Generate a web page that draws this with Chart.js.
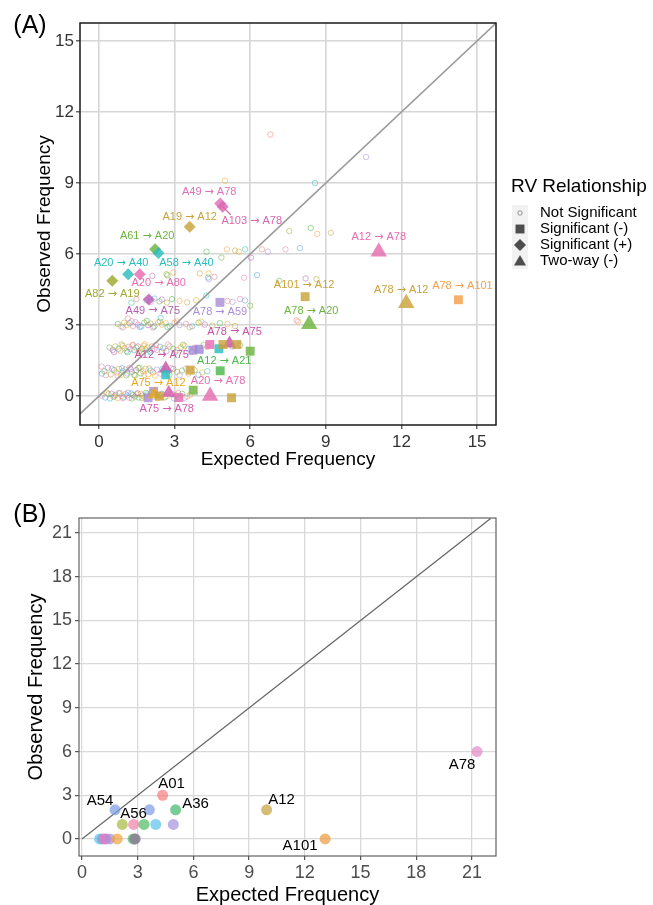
<!DOCTYPE html>
<html>
<head>
<meta charset="utf-8">
<script src="https://cdn.jsdelivr.net/npm/chart.js@4.4.0/dist/chart.umd.min.js"></script>
<style>
  html, body { margin: 0; padding: 0; background: #fff; }
  #wrap { position: relative; width: 653px; height: 905px; }
  #chartA { position: absolute; left: 0; top: 0; }
  #chartB { position: absolute; left: 0; top: 490px; }
</style>
</head>
<body>
<div id="wrap">
  <canvas id="chartA" width="653" height="490"></canvas>
  <canvas id="chartB" width="653" height="415"></canvas>
</div>
<script>
(function () {
    "use strict";

    const FONT = "'Liberation Sans', Arial, Helvetica, sans-serif";

    // ---- Panel A data ----
    const ticksA = [0, 3, 6, 9, 12, 15];
    const rangeA = { x: [-0.75, 15.75], y: [-1.22, 15.76] };

    // not significant pairs (expected, observed)
    const nsExpected = [
        0.12, 0.25, 0.38, 0.5, 0.58, 0.66, 0.75, 0.83, 0.9, 0.98, 1.05, 1.12, 1.2, 1.28, 1.35, 1.43, 1.5, 1.58, 1.66, 1.73, 1.82, 1.9, 2.05, 2.2, 2.38, 2.5, 2.62, 2.9, 3.05, 3.3, 3.5, 3.62,
        0.32, 0.44, 0.62, 0.79, 0.95, 1.16, 1.31, 1.54, 1.7, 1.87, 2.12, 2.33, 2.7, 2.98, 3.15, 3.4,
        0.1, 0.12, 0.22, 0.35, 0.47, 0.6, 0.7, 0.8, 0.88, 0.95, 1.05, 1.13, 1.22, 1.3, 1.4, 1.48, 1.56, 1.65, 1.75, 1.85, 1.95, 2.05, 2.15, 2.3, 2.45, 2.6, 2.8, 2.95, 3.1, 3.3, 3.55, 3.8, 4.1, 4.3,
        0.28, 0.52, 0.74, 0.92, 1.09, 1.26, 1.44, 1.61, 1.8, 2.0, 2.22, 2.52, 2.86, 3.2, 3.45, 3.95,
        0.42, 0.55, 0.65, 0.78, 0.85, 0.95, 1.02, 1.1, 1.18, 1.25, 1.32, 1.4, 1.48, 1.55, 1.62, 1.7, 1.78, 1.85, 1.92, 2.0, 2.1, 2.2, 2.3, 2.42, 2.55, 2.68, 2.8, 2.95, 3.1, 3.25, 3.4, 3.55, 3.8, 4.05, 4.3, 5.3, 5.6,
        0.6, 0.9, 1.14, 1.36, 1.58, 1.82, 2.04, 2.26, 2.5, 2.74, 3.02, 3.34, 3.68, 4.15,
        0.75, 0.88, 1.0, 1.1, 1.22, 1.35, 1.45, 1.55, 1.68, 1.8, 1.95, 2.05, 2.2, 2.35, 2.5, 2.65, 2.8, 3.0, 3.2, 3.45, 3.7, 3.95, 4.2, 4.5, 4.8, 5.1, 5.4, 7.9, 2.45, 1.15,
        0.95, 1.3, 1.62, 1.9, 2.15, 2.42, 2.72, 3.1, 3.6, 4.05,
        1.29, 1.49, 1.88, 2.05, 2.2, 2.4, 2.5, 2.7, 2.9, 3.2, 3.5, 3.86, 4.26, 5.1, 5.3, 5.6, 5.8, 6.0,
        2.12, 2.68, 2.72, 2.95, 4.0, 4.35, 4.33, 4.58, 4.36, 5.76, 6.27, 7.15, 8.2, 8.63,
        4.27, 5.08, 5.4, 5.55, 5.8, 6.47, 6.7, 7.4, 7.97, 4.86, 6.03, 7.55, 8.4, 8.66, 9.2, 5.0, 8.57, 6.8, 10.6, 7.84
    ];
    const nsObserved = [
        0.02, -0.06, 0.08, 0.1, -0.04, 0.05, -0.08, 0.12, 0.0, -0.05, 0.09, 0.03, -0.07, 0.11, 0.04, -0.02, 0.08, -0.06, 0.1, 0.02, -0.04, 0.07, 0.12, -0.03, 0.06, 0.1, -0.05, 0.08, 0.03, 0.1, -0.02, 0.06,
        0.14, -0.1, 0.0, 0.13, -0.09, 0.15, -0.1, 0.12, -0.08, 0.14, 0.15, -0.09, 0.0, -0.1, 0.13, -0.07,
        1.25, 0.95, 1.05, 1.2, 0.92, 1.1, 1.0, 1.15, 0.9, 1.05, 1.12, 0.95, 1.2, 1.02, 0.9, 1.1, 1.18, 0.96, 1.05, 1.15, 0.92, 1.08, 1.0, 1.12, 0.95, 1.05, 0.9, 1.15, 1.02, 1.08, 0.95, 1.1, 1.0, 1.05,
        0.88, 1.16, 0.86, 1.18, 0.88, 1.14, 0.87, 1.2, 0.89, 1.17, 0.86, 1.15, 1.18, 0.88, 1.16, 0.9,
        2.05, 1.95, 2.1, 2.0, 1.92, 2.12, 2.02, 1.9, 2.08, 1.98, 2.15, 1.94, 2.05, 2.1, 1.9, 2.0, 2.12, 1.96, 2.06, 1.92, 2.1, 2.0, 1.95, 2.08, 2.02, 1.9, 2.1, 2.0, 1.94, 2.06, 2.12, 1.98, 2.04, 1.92, 2.08, 2.1, 2.15,
        1.86, 2.18, 1.85, 2.17, 1.87, 2.19, 1.86, 2.16, 1.88, 2.18, 1.85, 2.17, 1.87, 2.16,
        3.05, 2.95, 3.1, 3.0, 3.08, 2.96, 3.12, 3.02, 2.94, 3.1, 3.0, 3.06, 2.95, 3.12, 3.02, 3.08, 2.96, 3.1, 3.0, 3.05, 2.95, 3.1, 3.02, 2.98, 3.08, 3.04, 2.96, 3.15, 3.3, 3.28,
        2.9, 3.16, 2.92, 3.18, 2.9, 3.15, 2.92, 3.16, 2.91, 3.15,
        3.95, 4.1, 4.05, 3.98, 4.12, 4.0, 4.08, 3.95, 4.1, 4.02, 3.96, 4.05, 4.25, 4.02, 3.98, 4.1, 4.04, 3.82,
        5.08, 5.15, 5.1, 5.22, 5.18, 5.18, 5.01, 5.04, 4.94, 5.0, 5.11, 4.87, 4.97, 4.94,
        6.1, 6.2, 6.15, 6.1, 6.2, 6.2, 6.1, 6.2, 6.25, 5.85, 5.85, 6.97, 7.1, 6.85, 6.9, 9.1, 9.0, 11.05, 10.1, 3.2
    ];

    // significant pairs
    const sigExpected = [4.81, 4.91, 3.6, 2.23, 2.36, 1.16, 1.62, 0.53, 1.98, 4.8, 8.18, 8.34, 11.1, 12.19, 14.26, 5.18, 4.4, 3.73, 3.97, 4.76, 4.92, 5.47, 6.0, 2.65, 2.65, 4.81, 3.62, 4.41, 3.74, 2.17, 1.95, 2.2, 2.77, 3.17, 5.26, 2.4];
    const sigObserved = [8.14, 8.0, 7.15, 6.2, 6.05, 5.15, 5.15, 4.87, 4.08, 3.96, 4.2, 3.04, 6.1, 3.92, 4.07, 2.22, 2.18, 1.94, 1.98, 2.0, 2.18, 2.18, 1.9, 1.17, 0.9, 1.07, 1.1, 0.0, 0.25, 0.2, -0.07, 0.08, 0.14, -0.06, -0.07, 0.0];
    const sigType = [
        "pos", "pos", "pos", "pos", "pos", "pos", "pos", "pos", "pos", "neg", "neg", "two", "two", "two", "neg", "two",
        "neg", "neg", "neg", "neg", "neg", "neg", "neg", "two", "neg", "neg", "neg", "two", "neg", "neg", "neg", "two", "two", "neg", "neg", "neg"
    ];
    const sigLabel = [
        "A49 → A78", "A103 → A78", "A19 → A12", "A61 → A20", "A58 → A40", "A20 → A40", "A20 → A80", "A82 → A19", "A49 → A75",
        "A78 → A59", "A101 → A12", "A78 → A20", "A12 → A78", "A78 → A12", "A78 → A101", "A78 → A75",
        "", "", "", "", "", "", "", "A12 → A75", "", "A12 → A21", "", "A20 → A78", "", "", "", "A75 → A12", "A75 → A78", "", "", ""
    ];
    const legendNames = ["Not Significant", "Significant (-)", "Significant (+)", "Two-way (-)"];

    // ---- Panel B data ----
    const ticksB = [0, 3, 6, 9, 12, 15, 18, 21];
    const rangeB = { x: [-0.16, 22.29], y: [-1.17, 22.03] };
    const bExpected = [0.95, 1.1, 1.22, 1.3, 1.5, 1.9, 2.75, 2.87, 2.85, 1.78, 2.17, 2.78, 3.34, 3.63, 3.97, 4.34, 4.92, 5.04, 9.94, 13.09, 21.27];
    const bObserved = [0, 0, 0, 0, 0, 0, 0, 0, 0, 2, 1, 1, 1, 2, 1, 3, 1, 2, 2, 0, 6];
    const bLabel = ["", "", "", "", "", "", "", "", "", "A54", "", "A56", "", "", "", "A01", "", "A36", "A12", "A101", "A78"];

    // ---- styles ----
    const nsPalette = ["#E87DB9", "#C9A43E", "#6DB33F", "#2EBFBF", "#A0AD2E", "#A98ED6", "#F2A04E", "#5AA0E0", "#E8B020", "#B864B8", "#F08080", "#4CB84C"];
    const sigColors = [
        "#E070B8", "#D868B0", "#C9A23A", "#6DB33F", "#2BBDBD", "#2BBDBD", "#E56DB1", "#9EAA2E", "#B65FB5",
        "#A98ED6", "#C9A23A", "#6DB33F", "#E56DB1", "#C9A23A", "#F2A04E", "#C951A8",
        "#E56DB1", "#A98ED6", "#9B8BD6", "#2BBDBD", "#C9A23A", "#C9A23A", "#6DB33F", "#C951A8", "#2BBDBD",
        "#4CB84C", "#C9A23A", "#E56DB1", "#6DB33F", "#A98ED6", "#A98ED6", "#E8A91D", "#D45AAE", "#E56DB1", "#C9A23A", "#C9A23A"
    ];
    const shapeStyle = { neg: "rect", pos: "rectRot", two: "triangle" };
    const sigRadius = sigType.map((t, i) => t === "two" ? ([11, 12, 13, 27].includes(i) ? 9.5 : 8) : (t === "neg" ? 6.3 : 6));
    // label offsets in px relative to the marker
    const labelDx = [-11, 29, 0, -8, 28, -7, 19, 0, 4, 0, -1, 2, 0, -5, 4, 5, 0, 0, 0, 0, 0, 0, 0, -4, 0, 4, 0, 8, 0, 0, 0, 4, -2, 0, 0, 0];
    const labelDy = [-11, 14, -10, -13, 10, -11, 9, 13, 11, 10, -12, -13, -15, -13, -14, -12, 0, 0, 0, 0, 0, 0, 0, -13, 0, -10, 0, -15, 0, 0, 0, -11, 16, 0, 0, 0];
    const bColors = ["#5BC0EB", "#7B9BE0", "#F07FA8", "#E07CC8", "#A592DB", "#F2A33A", "#4DBB5F", "#B48AD6", "#7F7F7F", "#7B9BE0", "#A8B93A", "#F07FA8", "#4DBB5F", "#7B9BE0", "#5BC0EB", "#F47C7C", "#A592DB", "#3FB86A", "#C4A13A", "#EE9A3A", "#E38AC8"];
    const bLabelDx = { A54: -15, A56: 0, A01: 9, A36: 20, A12: 15, A101: -25, A78: -15 };
    const bLabelDy = { A54: -9, A56: -11, A01: -11, A36: -6, A12: -10, A101: 7, A78: 13 };

    function alpha(hex, a) {
        const n = parseInt(hex.slice(1), 16);
        return `rgba(${n >> 16},${(n >> 8) & 255},${n & 255},${a})`;
    }

    function axis(range, ticks, o) {
        return {
            type: "linear",
            min: range[0],
            max: range[1],
            afterBuildTicks: (s) => { s.ticks = ticks.map((v) => ({ value: v })); },
            afterFit: (s) => { if (s.isHorizontal()) s.height = o.size; else s.width = o.size; },
            grid: { color: o.grid, lineWidth: o.gridWidth, drawTicks: true, tickLength: 4, tickColor: o.tickMark, tickWidth: 1.1 },
            border: { display: false },
            ticks: { color: o.tickColor, font: { size: o.fs, family: FONT }, padding: o.pad, autoSkip: false, maxRotation: 0 },
            title: { display: true, text: o.title, color: "#000", font: { size: o.ts, family: FONT, lineHeight: 1 }, padding: o.tpad },
        };
    }

    function frame(chart, color, width) {
        const a = chart.chartArea, ctx = chart.ctx;
        ctx.save();
        ctx.strokeStyle = color;
        ctx.lineWidth = width;
        ctx.strokeRect(a.left, a.top, a.right - a.left, a.bottom - a.top);
        ctx.restore();
    }

    function tag(ctx, text, x, y) {
        ctx.save();
        ctx.fillStyle = "#000";
        ctx.font = `25px ${FONT}`;
        ctx.textAlign = "center";
        ctx.textBaseline = "middle";
        ctx.fillText(text, x, y);
        ctx.restore();
    }

    // label text with a long arrow (DejaVu glyph) between the two codes
    function arrowText(ctx, lab, cx, cy) {
        const parts = lab.split(" → ");
        const f1 = `11px ${FONT}`, f2 = "11px 'DejaVu Sans'";
        ctx.font = f1;
        const a = parts[0] + " ", b = " " + parts[1];
        const wa = ctx.measureText(a).width, wb = ctx.measureText(b).width;
        ctx.font = f2;
        const wr = ctx.measureText("→").width;
        let x = cx - (wa + wr + wb) / 2;
        ctx.textAlign = "left";
        ctx.font = f1; ctx.fillText(a, x, cy); x += wa;
        ctx.font = f2; ctx.fillText("→", x, cy); x += wr;
        ctx.font = f1; ctx.fillText(b, x, cy);
    }

    // ---- Panel A ----
    const decorA = {
        id: "decorA",
        afterDatasetsDraw(chart) {
            const ctx = chart.ctx, xs = chart.scales.x, ys = chart.scales.y;
            ctx.save();
            ctx.textBaseline = "middle";
            sigLabel.forEach((lab, i) => {
                if (!lab) return;
                const px = xs.getPixelForValue(sigExpected[i]);
                const py = ys.getPixelForValue(sigObserved[i]);
                const lx = px + labelDx[i], ly = py + labelDy[i];
                if (lab === "A103 → A78") {
                    ctx.strokeStyle = sigColors[i];
                    ctx.lineWidth = 1.2;
                    ctx.beginPath();
                    ctx.moveTo(px, py);
                    ctx.lineTo(lx - 21, ly - 6);
                    ctx.stroke();
                }
                ctx.fillStyle = sigColors[i];
                arrowText(ctx, lab, lx, ly);
            });
            ctx.restore();
        },
        afterDraw(chart) {
            const ctx = chart.ctx;
            frame(chart, "#1a1a1a", 1.5);
            tag(ctx, "(A)", 30, 26);

            // legend
            ctx.save();
            ctx.fillStyle = "#000";
            ctx.textBaseline = "middle";
            ctx.font = `19px ${FONT}`;
            ctx.fillText("RV Relationship", 511, 187);
            const ys = [213, 229, 245, 261];
            ctx.font = `15px ${FONT}`;
            legendNames.forEach((name, i) => {
                ctx.fillStyle = "#F2F2F2";
                ctx.fillRect(512, ys[i] - 8, 16, 16);
                ctx.fillStyle = "#000";
                ctx.fillText(name, 540, ys[i]);
            });
            ctx.fillStyle = "rgba(0,0,0,0)";
            ctx.strokeStyle = "#8a8a8a";
            ctx.lineWidth = 0.9;
            Chart.helpers.drawPoint(ctx, { pointStyle: "circle", radius: 2.2, borderWidth: 0.9 }, 520, ys[0]);
            ctx.fillStyle = "#4d4d4d";
            Chart.helpers.drawPoint(ctx, { pointStyle: "rect", radius: 6.3, borderWidth: 0 }, 520, ys[1]);
            Chart.helpers.drawPoint(ctx, { pointStyle: "rectRot", radius: 6, borderWidth: 0 }, 520, ys[2]);
            Chart.helpers.drawPoint(ctx, { pointStyle: "triangle", radius: 7, borderWidth: 0 }, 520, ys[3] + 1);
            ctx.restore();
        },
    };

    new Chart(document.getElementById("chartA"), {
        type: "scatter",
        data: {
            datasets: [
                {
                    data: sigExpected.map((x, i) => ({ x, y: sigObserved[i] })),
                    pointStyle: sigType.map((t) => shapeStyle[t]),
                    pointRadius: sigRadius,
                    backgroundColor: sigColors.map((c) => alpha(c, 0.82)),
                    borderColor: sigColors.map((c) => alpha(c, 0.82)),
                    borderWidth: 0,
                    order: 0,
                },
                {
                    type: "line",
                    data: rangeA.x.map((v) => ({ x: v, y: v })),
                    borderColor: "#9a9a9a",
                    borderWidth: 1.6,
                    pointRadius: 0,
                    showLine: true,
                    order: 1,
                },
                {
                    data: nsExpected.map((x, i) => ({ x, y: nsObserved[i] })),
                    pointStyle: "circle",
                    pointRadius: 2.7,
                    backgroundColor: "rgba(0,0,0,0)",
                    borderColor: nsExpected.map((_, i) => alpha(nsPalette[(i * 7) % nsPalette.length], 0.6)),
                    borderWidth: 0.9,
                    order: 2,
                },
            ],
        },
        options: {
            responsive: false,
            animation: false,
            devicePixelRatio: 1,
            layout: { padding: { left: 0, top: 23, right: 157, bottom: 0 } },
            plugins: { legend: { display: false }, tooltip: { enabled: false } },
            scales: {
                x: axis(rangeA.x, ticksA, { size: 65, grid: "#d6d6d6", gridWidth: 1.6, tickMark: "#333", tickColor: "#333", fs: 17, pad: 3, title: "Expected Frequency", ts: 19, tpad: { top: 0, bottom: 21 } }),
                y: axis(rangeA.y, ticksA, { size: 80, grid: "#d6d6d6", gridWidth: 1.6, tickMark: "#333", tickColor: "#333", fs: 17, pad: 2, title: "Observed Frequency", ts: 19, tpad: { top: 35, bottom: 0 } }),
            },
        },
        plugins: [decorA],
    });

    // ---- Panel B ----
    const decorB = {
        id: "decorB",
        afterDatasetsDraw(chart) {
            const ctx = chart.ctx, xs = chart.scales.x, ys = chart.scales.y;
            ctx.save();
            ctx.font = `15px ${FONT}`;
            ctx.fillStyle = "#000";
            ctx.textAlign = "center";
            ctx.textBaseline = "middle";
            bLabel.forEach((lab, i) => {
                if (!lab) return;
                ctx.fillText(lab, xs.getPixelForValue(bExpected[i]) + bLabelDx[lab], ys.getPixelForValue(bObserved[i]) + bLabelDy[lab]);
            });
            ctx.restore();
        },
        afterDraw(chart) {
            frame(chart, "#555", 1.1);
            tag(chart.ctx, "(B)", 30, 25);
        },
    };

    new Chart(document.getElementById("chartB"), {
        type: "scatter",
        data: {
            datasets: [
                {
                    data: bExpected.map((x, i) => ({ x, y: bObserved[i] })),
                    pointStyle: "circle",
                    pointRadius: 5.5,
                    backgroundColor: bColors.map((c) => alpha(c, 0.7)),
                    borderWidth: 0,
                    order: 0,
                },
                {
                    type: "line",
                    data: [0, 22].map((v) => ({ x: v, y: v })),
                    borderColor: "#666",
                    borderWidth: 1.2,
                    pointRadius: 0,
                    showLine: true,
                    order: 1,
                },
            ],
        },
        options: {
            responsive: false,
            animation: false,
            devicePixelRatio: 1,
            layout: { padding: { left: 0, top: 28, right: 157, bottom: 0 } },
            plugins: { legend: { display: false }, tooltip: { enabled: false } },
            scales: {
                x: axis(rangeB.x, ticksB, { size: 49, grid: "#d9d9d9", gridWidth: 1.3, tickMark: "#444", tickColor: "#4d4d4d", fs: 18, pad: 2, title: "Expected Frequency", ts: 20, tpad: { top: 0, bottom: 0 } }),
                y: axis(rangeB.y, ticksB, { size: 79, grid: "#d9d9d9", gridWidth: 1.3, tickMark: "#444", tickColor: "#4d4d4d", fs: 18, pad: 3, title: "Observed Frequency", ts: 20, tpad: { top: 26, bottom: 0 } }),
            },
        },
        plugins: [decorB],
    });
})();
</script>
</body>
</html>
